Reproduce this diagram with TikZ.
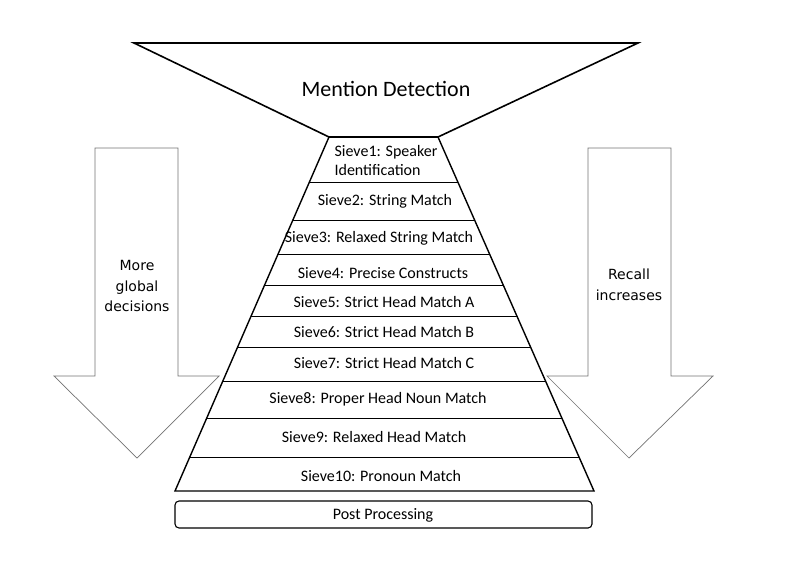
\documentclass[tikz,border=0pt]{standalone}
\usepackage{fontspec}
\setmainfont{Carlito}
\newfontfamily\sidefont{DejaVu Sans}
\begin{document}
\begin{tikzpicture}[x=1pt,y=-1pt,
  funnel/.style={draw=black,line width=1.6pt,line join=miter},
  pyr/.style={draw=black,line width=1.4pt},
  rowline/.style={draw=black,line width=0.9pt},
  bigarrow/.style={draw=black!55,line width=0.7pt,fill=white},
  lbl/.style={font=\fontsize{16}{19}\selectfont,inner sep=0pt},
  side/.style={font=\sidefont\fontsize{14}{20.5}\selectfont,align=center,inner sep=0pt}]
\useasboundingbox (0,0) rectangle (785,576);
% side arrows
\draw[bigarrow] (95,148) -- (178,148) -- (178,376) -- (219,376) -- (137,458) -- (54,376) -- (95,376) -- cycle;
\draw[bigarrow] (588,148) -- (671,148) -- (671,376) -- (713,376) -- (629,458) -- (547,376) -- (588,376) -- cycle;
\node[side] (more) at (137,286) {More\\global\\decisions};
\node[side] (recall) at (629,285) {Recall\\increases};
% funnel
\draw[funnel] (134,43) -- (638,43) -- (438,137) -- (329,137) -- cycle;
\node[font=\fontsize{22}{24}\selectfont,inner sep=0pt] (md) at (386,89) {Mention Detection};
% pyramid
\draw[pyr] (329,137) -- (438,137) -- (594,491) -- (175,491) -- cycle;
\foreach \yy in {182,220,254,285,316,347,381,418,457}{
  \pgfmathsetmacro{\xl}{329-0.43503*(\yy-137)}
  \pgfmathsetmacro{\xr}{438+0.44068*(\yy-137)}
  \draw[rowline] (\xl,\yy) -- (\xr,\yy);
}
\node[lbl,align=left] (s1) at (386,161) {Sieve1: Speaker\\Identification};
\node[lbl] (s2) at (385,201) {Sieve2: String Match};
\node[lbl] (s3) at (379,238) {Sieve3: Relaxed String Match};
\node[lbl] (s4) at (383,273) {Sieve4: Precise Constructs};
\node[lbl] (s5) at (384,302) {Sieve5: Strict Head Match A};
\node[lbl] (s6) at (384,332) {Sieve6: Strict Head Match B};
\node[lbl] (s7) at (384,363) {Sieve7: Strict Head Match C};
\node[lbl] (s8) at (378,399) {Sieve8: Proper Head Noun Match};
\node[lbl] (s9) at (374,437) {Sieve9: Relaxed Head Match};
\node[lbl] (s10) at (381,476) {Sieve10: Pronoun Match};
% post processing
\draw[draw=black,line width=1.1pt,rounded corners=4pt] (175,501) rectangle (592,528);
\node[lbl] (pp) at (383,515) {Post Processing};
\end{tikzpicture}
\end{document}
